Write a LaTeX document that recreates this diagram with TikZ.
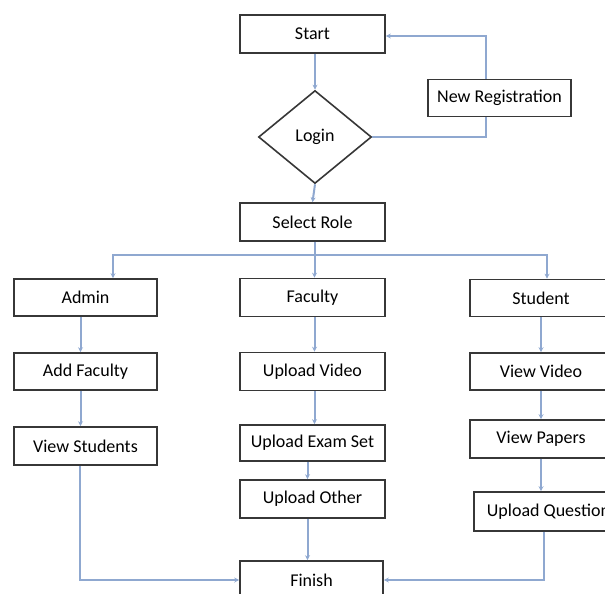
\documentclass[tikz,border=0pt]{standalone}
\usepackage{fontspec}
\setmainfont{Carlito}
\usetikzlibrary{shapes.geometric,arrows.meta}
\definecolor{linkblue}{RGB}{143,168,208}
\definecolor{boxline}{RGB}{55,55,55}
\begin{document}
\begin{tikzpicture}[x=1pt,y=-1pt,
  box/.style={draw=boxline, line width=1.6pt, minimum width=145pt, minimum height=38pt, inner sep=0pt, fill=white, font=\fontsize{18}{21}\selectfont},
  sbox/.style={box, minimum width=143pt, minimum height=37pt},
  dia/.style={diamond, draw=boxline, line width=1.6pt, minimum width=113pt, minimum height=93pt, inner sep=0pt, aspect=1.2, font=\fontsize{18}{21}\selectfont},
  conn/.style={draw=linkblue, line width=2pt, -{Stealth[length=5pt,width=5pt]}},
  plain/.style={draw=linkblue, line width=2pt}]
\useasboundingbox (0,0) rectangle (605,594);
\begin{scope}
\clip (0,0) rectangle (605,594);
% nodes
\node[box] (start) at (312.5,34) {Start};
\node[dia] (login) at (315,137) {Login};
\node[sbox] (newreg) at (499.5,98) {New Registration};
\node[box] (select) at (312.5,222) {Select Role};
\node[sbox] (admin) at (85.5,297.5) {Admin};
\node[box] (faculty) at (312.5,297.5) {Faculty};
\node[sbox, minimum width=142pt] (student) at (541,298) {Student};
\node[sbox] (addfac) at (85.5,371.5) {Add Faculty};
\node[box] (upvid) at (312.5,371.5) {Upload Video};
\node[sbox, minimum width=142pt] (viewvid) at (541,371.5) {View Video};
\node[sbox, minimum height=38pt] (viewstu) at (85.5,446) {View Students};
\node[box, minimum height=36pt] (upexam) at (312.5,443) {Upload Exam Set};
\node[sbox, minimum width=142pt, minimum height=38pt] (viewpap) at (541,439) {View Papers};
\node[box] (upother) at (312.5,499) {Upload Other};
\node[sbox, minimum width=156pt, minimum height=39pt] (upq) at (552,511.5) {Upload Questions};
\node[box, minimum width=143pt] (finish) at (311.5,580) {Finish};
% connectors
\draw[conn] (start.south -| login.north) -- (login.north);
\draw[plain] (login.east) -| ([xshift=-14pt]newreg.south);
\draw[conn] ([xshift=-14pt]newreg.north) |- ([yshift=-2pt]start.east);
\draw[conn] (login.south) -- (select.north);
\draw[conn] ([xshift=2pt]select.south) -- ([xshift=2pt]faculty.north);
\draw[conn] ([xshift=2pt]select.south) |- ++(0,13) -| ([xshift=27.5pt]admin.north);
\draw[conn] ([xshift=2pt]select.south) |- ++(0,13) -| ([xshift=6pt]student.north);
\draw[conn] ([xshift=-5pt]admin.south) -- ([xshift=-5pt]addfac.north);
\draw[conn] ([xshift=-5pt]addfac.south) -- ([xshift=-5pt]viewstu.north);
\draw[conn] ([xshift=2pt]faculty.south) -- ([xshift=2pt]upvid.north);
\draw[conn] ([xshift=2pt]upvid.south) -- ([xshift=2pt]upexam.north);
\draw[conn] ([xshift=-5pt]upexam.south) -- ([xshift=-5pt]upother.north);
\draw[conn] ([xshift=-5pt]upother.south) -- ([xshift=-4pt]finish.north);
\draw[conn] (student.south) -- (viewvid.north);
\draw[conn] (viewvid.south) -- (viewpap.north);
\draw[conn] (viewpap.south) -- (viewpap.south |- upq.north);
\draw[conn] ([xshift=-5.5pt]viewstu.south) |- (finish.west);
\draw[conn] ([xshift=-8pt]upq.south) |- (finish.east);
\end{scope}
\end{tikzpicture}
\end{document}
